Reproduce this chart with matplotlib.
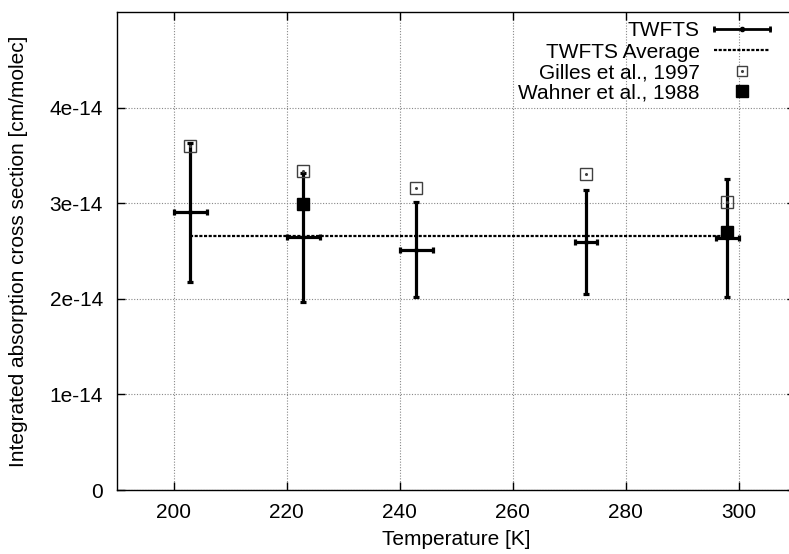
import matplotlib
matplotlib.use("Agg")
import matplotlib.pyplot as plt

plt.rcParams['font.family'] = ['Liberation Sans', 'DejaVu Sans']

# ---- data ----
temps = [203, 223, 243, 273, 298]
twfts = [2.904e-14, 2.646e-14, 2.513e-14, 2.594e-14, 2.635e-14]
twfts_yerr = [0.727e-14, 0.675e-14, 0.498e-14, 0.542e-14, 0.616e-14]
twfts_xerr = [3, 3, 3, 2, 2]
twfts_avg = 2.66e-14
gilles_t = [203, 223, 243, 273, 298]
gilles = [3.595e-14, 3.34e-14, 3.16e-14, 3.306e-14, 3.01e-14]
wahner_t = [223, 298]
wahner = [2.99e-14, 2.694e-14]
xticks = [200, 220, 240, 260, 280, 300]
yticks = [0, 1e-14, 2e-14, 3e-14, 4e-14]
ytick_labels = ['0', '1e-14', '2e-14', '3e-14', '4e-14']
legend_labels = ['TWFTS', 'TWFTS Average', 'Gilles et al., 1997', 'Wahner et al., 1988']

FS = 15
W, H = 789, 554
fig = plt.figure(figsize=(W / 100, H / 100), dpi=100)
ax = fig.add_axes([117 / W, (H - 490) / H, 678 / W, 478 / H])

ax.set_xlim(190, 310)
ax.set_ylim(0, 5e-14)
ax.set_xticks(xticks)
ax.set_yticks(yticks)
ax.set_yticklabels(ytick_labels)
ax.tick_params(direction='in', top=True, right=True, length=6, width=1,
               labelsize=FS, pad=9, colors='black')
ax.tick_params(axis='y', pad=10)
for s in ax.spines.values():
    s.set_linewidth(1.0)
ax.grid(True, color='#888888', linestyle=(0, (1, 1.5)), linewidth=0.8)
ax.set_axisbelow(True)

# average line
ax.plot([temps[0], temps[-1]], [twfts_avg, twfts_avg], color='black',
        linewidth=1.6, linestyle=(0, (1.4, 0.7)), zorder=3)

# TWFTS error bars
ax.errorbar(temps, twfts, yerr=twfts_yerr, xerr=twfts_xerr, fmt='o', ms=2.5,
            color='black', ecolor='black', elinewidth=2.3, capsize=2,
            capthick=2.3, zorder=4)

# Gilles: open squares with small dot
ax.plot(gilles_t, gilles, linestyle='none', marker='s', ms=9.3, mfc='none',
        mec='#404040', mew=1.0, zorder=5)
ax.plot(gilles_t, gilles, linestyle='none', marker='o', ms=1.2, color='#404040',
        zorder=6)

# Wahner: filled squares
ax.plot(wahner_t, wahner, linestyle='none', marker='s', ms=9.3, color='black',
        zorder=6)

ax.set_xlabel('Temperature [K]', fontsize=FS)
ax.set_ylabel('Integrated absorption cross section [cm/molec]', fontsize=FS)
ax.xaxis.set_label_coords(0.5, (490 - 530) / 478)
ax.yaxis.set_label_coords((28 - 117) / 678, 0.5)

# manual gnuplot-style legend (axes fractions)
def fx(px):
    return (px - 117) / 678

def fy(py):
    return (490 - py) / 478

rows = [29, 50, 71, 91]
tx = fx(700)
x0, x1, xc = fx(714), fx(770), fx(742)
tr = ax.transAxes
for lab, r in zip(legend_labels, rows):
    ax.text(tx, fy(r), lab, transform=tr, ha='right', va='center_baseline',
            fontsize=FS)
# TWFTS sample
ax.plot([x0, x1], [fy(rows[0])] * 2, transform=tr, color='black', lw=2.0,
        clip_on=False)
ax.plot([x0, x1], [fy(rows[0])] * 2, transform=tr, linestyle='none',
        marker='|', ms=5, mew=2, color='black', clip_on=False)
ax.plot([xc], [fy(rows[0])], transform=tr, marker='o', ms=3, color='black',
        clip_on=False)
# Average sample
ax.plot([x0, x1], [fy(rows[1])] * 2, transform=tr, color='black', lw=1.6,
        linestyle=(0, (1.4, 0.7)), clip_on=False)
# Gilles sample
ax.plot([xc], [fy(rows[2])], transform=tr, marker='s', ms=7.5, mfc='white',
        mec='#404040', mew=1.0, clip_on=False)
ax.plot([xc], [fy(rows[2])], transform=tr, marker='o', ms=1.2, color='#404040',
        clip_on=False)
# Wahner sample
ax.plot([xc], [fy(rows[3])], transform=tr, marker='s', ms=9, color='black',
        clip_on=False)

fig.savefig('out.png', dpi=100)
